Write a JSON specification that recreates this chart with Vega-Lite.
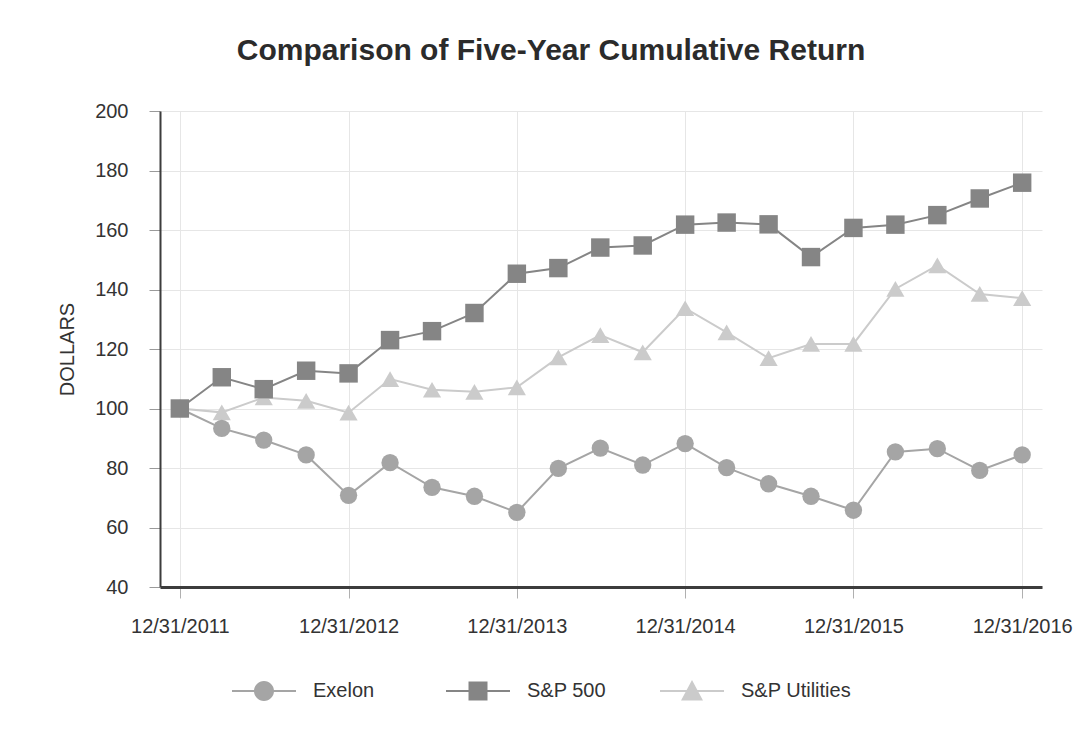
{
  "$schema": "https://vega.github.io/schema/vega-lite/v6.json",
  "width": 882,
  "height": 476,
  "autosize": {"type": "none"},
  "padding": {"left": 160, "top": 111, "right": 47, "bottom": 163},
  "background": "white",
  "title": {
    "text": "Comparison of Five-Year Cumulative Return",
    "font": "Liberation Sans",
    "fontSize": 30,
    "fontWeight": "bold",
    "color": "#2b2b2b",
    "anchor": "middle",
    "dx": -50,
    "offset": 35
  },
  "config": {
    "view": {"stroke": null},
    "font": "Liberation Sans"
  },
  "data": {
    "values": [
      {"date": "12/31/2011", "series": "S&P Utilities", "value": 100},
      {"date": "03/31/2012", "series": "S&P Utilities", "value": 98.7},
      {"date": "06/30/2012", "series": "S&P Utilities", "value": 103.7},
      {"date": "09/30/2012", "series": "S&P Utilities", "value": 102.6},
      {"date": "12/31/2012", "series": "S&P Utilities", "value": 98.6},
      {"date": "03/31/2013", "series": "S&P Utilities", "value": 109.9},
      {"date": "06/30/2013", "series": "S&P Utilities", "value": 106.3},
      {"date": "09/30/2013", "series": "S&P Utilities", "value": 105.6},
      {"date": "12/31/2013", "series": "S&P Utilities", "value": 107.1},
      {"date": "03/31/2014", "series": "S&P Utilities", "value": 117.2},
      {"date": "06/30/2014", "series": "S&P Utilities", "value": 124.7},
      {"date": "09/30/2014", "series": "S&P Utilities", "value": 118.9},
      {"date": "12/31/2014", "series": "S&P Utilities", "value": 133.7},
      {"date": "03/31/2015", "series": "S&P Utilities", "value": 125.6},
      {"date": "06/30/2015", "series": "S&P Utilities", "value": 116.9},
      {"date": "09/30/2015", "series": "S&P Utilities", "value": 121.7},
      {"date": "12/31/2015", "series": "S&P Utilities", "value": 121.7},
      {"date": "03/31/2016", "series": "S&P Utilities", "value": 140.2},
      {"date": "06/30/2016", "series": "S&P Utilities", "value": 148.1},
      {"date": "09/30/2016", "series": "S&P Utilities", "value": 138.5},
      {"date": "12/31/2016", "series": "S&P Utilities", "value": 137.1},
      {"date": "12/31/2011", "series": "Exelon", "value": 100},
      {"date": "03/31/2012", "series": "Exelon", "value": 93.3},
      {"date": "06/30/2012", "series": "Exelon", "value": 89.4},
      {"date": "09/30/2012", "series": "Exelon", "value": 84.4},
      {"date": "12/31/2012", "series": "Exelon", "value": 70.8},
      {"date": "03/31/2013", "series": "Exelon", "value": 81.8},
      {"date": "06/30/2013", "series": "Exelon", "value": 73.5},
      {"date": "09/30/2013", "series": "Exelon", "value": 70.5},
      {"date": "12/31/2013", "series": "Exelon", "value": 65.1},
      {"date": "03/31/2014", "series": "Exelon", "value": 79.9},
      {"date": "06/30/2014", "series": "Exelon", "value": 86.7},
      {"date": "09/30/2014", "series": "Exelon", "value": 81.0},
      {"date": "12/31/2014", "series": "Exelon", "value": 88.2},
      {"date": "03/31/2015", "series": "Exelon", "value": 80.1},
      {"date": "06/30/2015", "series": "Exelon", "value": 74.7},
      {"date": "09/30/2015", "series": "Exelon", "value": 70.5},
      {"date": "12/31/2015", "series": "Exelon", "value": 65.8},
      {"date": "03/31/2016", "series": "Exelon", "value": 85.4},
      {"date": "06/30/2016", "series": "Exelon", "value": 86.5},
      {"date": "09/30/2016", "series": "Exelon", "value": 79.2},
      {"date": "12/31/2016", "series": "Exelon", "value": 84.4},
      {"date": "12/31/2011", "series": "S&P 500", "value": 100},
      {"date": "03/31/2012", "series": "S&P 500", "value": 110.5},
      {"date": "06/30/2012", "series": "S&P 500", "value": 106.5},
      {"date": "09/30/2012", "series": "S&P 500", "value": 112.7},
      {"date": "12/31/2012", "series": "S&P 500", "value": 111.8},
      {"date": "03/31/2013", "series": "S&P 500", "value": 123.0},
      {"date": "06/30/2013", "series": "S&P 500", "value": 126.0},
      {"date": "09/30/2013", "series": "S&P 500", "value": 132.1},
      {"date": "12/31/2013", "series": "S&P 500", "value": 145.3},
      {"date": "03/31/2014", "series": "S&P 500", "value": 147.2},
      {"date": "06/30/2014", "series": "S&P 500", "value": 154.1},
      {"date": "09/30/2014", "series": "S&P 500", "value": 154.8},
      {"date": "12/31/2014", "series": "S&P 500", "value": 161.8},
      {"date": "03/31/2015", "series": "S&P 500", "value": 162.5},
      {"date": "06/30/2015", "series": "S&P 500", "value": 161.9},
      {"date": "09/30/2015", "series": "S&P 500", "value": 150.9},
      {"date": "12/31/2015", "series": "S&P 500", "value": 160.7},
      {"date": "03/31/2016", "series": "S&P 500", "value": 161.8},
      {"date": "06/30/2016", "series": "S&P 500", "value": 165.0},
      {"date": "09/30/2016", "series": "S&P 500", "value": 170.6},
      {"date": "12/31/2016", "series": "S&P 500", "value": 175.9}
    ]
  },
  "encoding": {
    "x": {
      "field": "date",
      "type": "temporal",
      "scale": {
        "domain": [
          {"year": 2011, "month": 11, "date": 18},
          {"year": 2017, "month": 2, "date": 12}
        ]
      },
      "axis": {
        "title": null,
        "values": [
          {"year": 2011, "month": 12, "date": 31},
          {"year": 2012, "month": 12, "date": 31},
          {"year": 2013, "month": 12, "date": 31},
          {"year": 2014, "month": 12, "date": 31},
          {"year": 2015, "month": 12, "date": 31},
          {"year": 2016, "month": 12, "date": 31}
        ],
        "format": "%m/%d/%Y",
        "labelFontSize": 20,
        "labelColor": "#333333",
        "labelPadding": 18,
        "labelFlush": false,
        "labelOverlap": false,
        "tickSize": 11,
        "tickColor": "#b0b0b0",
        "tickWidth": 1,
        "domainColor": "#3c3c3c",
        "domainWidth": 3,
        "gridColor": "#e6e6e6",
        "gridWidth": 1
      }
    },
    "y": {
      "field": "value",
      "type": "quantitative",
      "scale": {"domain": [40, 200], "nice": false, "zero": false},
      "axis": {
        "title": "DOLLARS",
        "titleFontSize": 20,
        "titleFontWeight": "normal",
        "titleColor": "#333333",
        "titlePadding": 17,
        "values": [40, 60, 80, 100, 120, 140, 160, 180, 200],
        "labelFontSize": 20,
        "labelColor": "#333333",
        "labelPadding": 21,
        "tickSize": 11,
        "tickColor": "#9a9a9a",
        "tickWidth": 1,
        "domainColor": "#3c3c3c",
        "domainWidth": 2,
        "gridColor": "#e6e6e6",
        "gridWidth": 1
      }
    },
    "color": {
      "field": "series",
      "type": "nominal",
      "scale": {
        "domain": ["Exelon", "S&P 500", "S&P Utilities"],
        "range": ["#a5a5a5", "#858585", "#cbcbcb"]
      },
      "legend": {
        "title": null,
        "orient": "none",
        "direction": "horizontal",
        "legendX": 94,
        "legendY": 570,
        "symbolSize": 400,
        "symbolStrokeWidth": 0,
        "symbolOpacity": 1,
        "labelFontSize": 20,
        "labelColor": "#333333",
        "labelOffset": 39,
        "gridAlign": "all",
        "columnPadding": 22
      }
    }
  },
  "layer": [
    {
      "mark": {"type": "line", "strokeWidth": 2}
    },
    {
      "transform": [{"filter": {"field": "series", "equal": "S&P Utilities"}}],
      "mark": {"type": "point", "filled": true, "opacity": 1, "size": 330, "shape": "triangle-up"}
    },
    {
      "transform": [{"filter": {"field": "series", "equal": "Exelon"}}],
      "mark": {"type": "point", "filled": true, "opacity": 1, "size": 300, "shape": "circle"}
    },
    {
      "transform": [{"filter": {"field": "series", "equal": "S&P 500"}}],
      "mark": {"type": "point", "filled": true, "opacity": 1, "size": 340, "shape": "square"}
    },
    {
      "transform": [{"filter": "datum.value < 0"}],
      "mark": {"type": "point", "filled": true, "opacity": 1},
      "encoding": {
        "shape": {
          "field": "series",
          "type": "nominal",
          "scale": {
            "domain": ["Exelon", "S&P 500", "S&P Utilities"],
            "range": [
              "M-3.2,-0.1H3.2V0.1H-3.2Z M1,0A1,1 0 1,1 -1,0A1,1 0 1,1 1,0Z",
              "M-3.2,-0.1H3.2V0.1H-3.2Z M-0.95,-0.95H0.95V0.95H-0.95Z",
              "M-3.2,-0.1H3.2V0.1H-3.2Z M0,-1.1L1.1,0.95H-1.1Z"
            ]
          },
          "legend": {
            "title": null,
            "orient": "none",
            "direction": "horizontal",
            "legendX": 94,
            "legendY": 570,
            "symbolSize": 400,
            "symbolStrokeWidth": 0,
            "symbolOpacity": 1,
            "labelFontSize": 20,
            "labelColor": "#333333",
            "labelOffset": 39,
            "gridAlign": "all",
            "columnPadding": 22
          }
        }
      }
    }
  ]
}
